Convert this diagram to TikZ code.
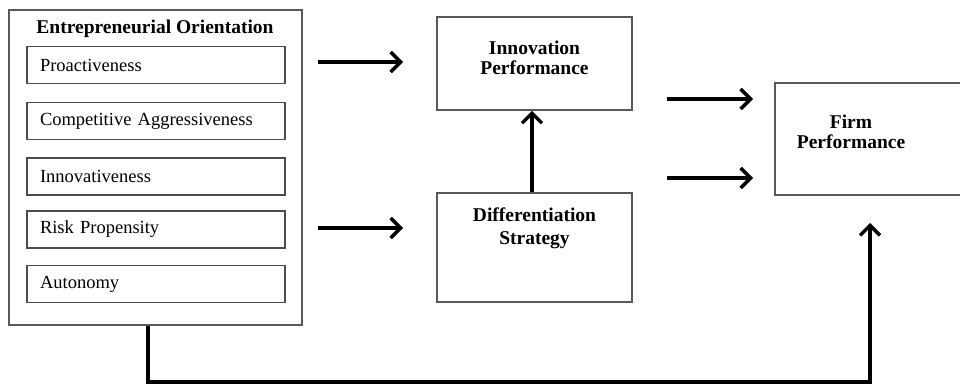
\documentclass[tikz,border=0pt]{standalone}
\usepackage{fontspec}
\setmainfont{Liberation Serif}
\usetikzlibrary{arrows.meta, positioning}

\begin{document}
\begin{tikzpicture}[
        x=1pt, y=-1pt,
        outer/.style = {draw=black!65, line width=1.6pt, minimum width=293pt, minimum height=315pt},
        item/.style  = {draw=black!70, line width=1.6pt, minimum width=258pt, minimum height=37pt,
                        text width=232pt, inner xsep=13pt, align=left, font=\fontsize{18.5}{21}\selectfont},
        blk/.style   = {draw=black!65, line width=1.6pt, minimum width=195pt},
        ttl/.style   = {font=\fontsize{19.5}{20}\selectfont\bfseries, align=center, inner sep=0pt},
        ar/.style    = {-{Straight Barb[length=10pt, width=20pt]}, line width=3.4pt}
    ]
        \useasboundingbox (0,0) rectangle (960,387);

        \node[outer] (eo) at (155.5,167.5) {};
        \node[ttl] (eot) at (155,29) {Entrepreneurial Orientation};
        \node[item] (pro)  at (156,65)    {Proactiveness};
        \node[item] (comp) at (156,121)   {Competitive Aggressiveness};
        \node[item] (inn)  at (156,176.5) {Innovativeness};
        \node[item] (risk) at (156,229.5) {Risk Propensity};
        \node[item] (aut)  at (156,284)   {Autonomy};

        \node[blk, minimum height=93pt]  (ip) at (534.5,63.5)  {};
        \node[blk, minimum height=109pt] (ds) at (534.5,247.5) {};
        \node[blk, minimum width=210pt, minimum height=112pt] (fp) at (880,139) {};

        \node[ttl] at (534.5,57.5)  {Innovation\\[0pt]Performance};
        \node[ttl] at (534.5,228.5) {Differentiation\\[3pt]Strategy};
        \node[ttl] at (851,131.5)   {Firm\\[0pt]Performance};

        \coordinate (a1) at (318,62);
        \coordinate (b1) at (403,62);
        \coordinate (a2) at (318,228);
        \coordinate (b2) at (403,228);
        \coordinate (a3) at (667,99);
        \coordinate (b3) at (753,99);
        \coordinate (a4) at (667,178);
        \coordinate (b4) at (753,178);
        \coordinate (lo) at (148,382);
        \coordinate (fe) at (870,223);

        \draw[ar] (a1) -- (b1);
        \draw[ar] (a2) -- (b2);
        \draw[ar] (ds.north -| 532,0) -- (ip.south -| 532,0);
        \draw[ar] (a3) -- (b3);
        \draw[ar] (a4) -- (b4);
        \draw[ar] (eo.south -| lo) -- (lo) -| (fe);
    \end{tikzpicture}
\end{document}
